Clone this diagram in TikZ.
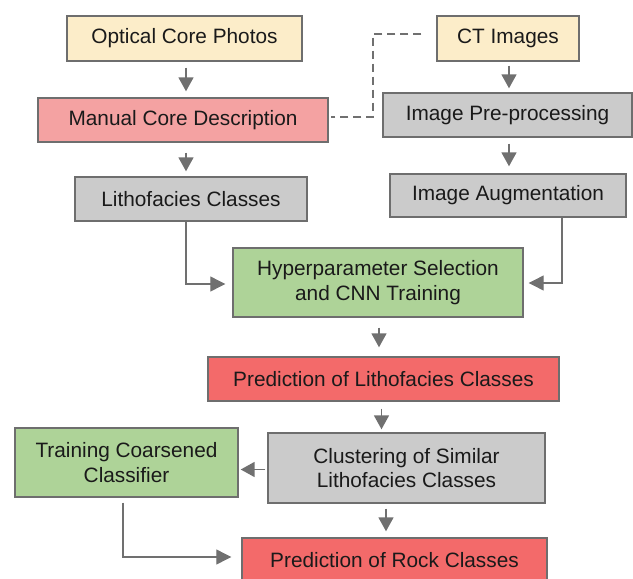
\documentclass[tikz,border=0pt]{standalone}
\usepackage{fontspec}
\setmainfont{Liberation Sans}
\usetikzlibrary{arrows.meta,calc}
\definecolor{cyellow}{HTML}{FCEDC9}
\definecolor{cpink}{HTML}{F4A2A2}
\definecolor{cgray}{HTML}{CBCBCB}
\definecolor{cgreen}{HTML}{AED398}
\definecolor{cred}{HTML}{F36A6A}
\definecolor{cborder}{HTML}{6E6E6E}
\definecolor{carrow}{HTML}{707070}
\definecolor{ctext}{HTML}{1A1A1A}
\tikzset{
  box/.style={draw=cborder, line width=1.4pt, rectangle, inner sep=0pt,
    align=center, text=ctext, font=\fontsize{20.8}{24.5}\selectfont},
  yel/.style={box, fill=cyellow},
  pnk/.style={box, fill=cpink},
  gry/.style={box, fill=cgray},
  grn/.style={box, fill=cgreen},
  rdd/.style={box, fill=cred},
  arr/.style={draw=carrow, line width=1.7pt, -{Triangle[length=14pt,width=15pt]}},
  elbow/.style={draw=carrow, line width=1.2pt, -{Triangle[length=15pt,width=15pt]}},
  dashconn/.style={draw=carrow, line width=1.8pt, dash pattern=on 8pt off 5pt},
}
\begin{document}
\begin{tikzpicture}[x=1pt,y=-1pt]
\useasboundingbox (0,0) rectangle (633,579);
\node[yel, minimum width=235pt, minimum height=45pt] (opt) at (184.5,38.5) {Optical Core Photos};
\node[yel, minimum width=142pt, minimum height=45pt] (ct) at (508,38.5) {CT Images};
\node[pnk, minimum width=290pt, minimum height=44pt] (man) at (183,120) {Manual Core Description};
\node[gry, minimum width=249pt, minimum height=44pt] (pre) at (507.5,115) {Image Pre-processing};
\node[gry, minimum width=232pt, minimum height=44pt] (lit) at (191,199) {Lithofacies Classes};
\node[gry, minimum width=236pt, minimum height=43pt] (aug) at (508,195.5) {Image Augmentation};
\node[grn, minimum width=290pt, minimum height=69pt] (hyp) at (378,282.5) {Hyperparameter Selection\\and CNN Training};
\node[rdd, minimum width=351pt, minimum height=44pt] (pl) at (383.5,379) {Prediction of Lithofacies Classes};
\node[gry, minimum width=277pt, minimum height=70pt] (clu) at (406.5,468) {Clustering of Similar\\Lithofacies Classes};
\node[grn, minimum width=223pt, minimum height=69pt] (trn) at (126.5,462.5) {Training Coarsened\\Classifier};
\node[rdd, minimum width=305pt, minimum height=44pt] (rock) at (394.5,560) {Prediction of Rock Classes};

\draw[arr, shorten <=6pt, shorten >=6pt] ([xshift=1.5pt]opt.south) -- ([xshift=1.5pt]opt.south |- man.north);
\draw[arr, shorten <=10pt, shorten >=5pt] ([xshift=3pt]man.south) -- ([xshift=3pt]man.south |- lit.north);
\draw[arr, shorten <=4pt, shorten >=4pt] ([xshift=1pt]ct.south) -- ([xshift=1pt]ct.south |- pre.north);
\draw[arr, shorten <=6pt, shorten >=7pt] ([xshift=1.5pt]pre.south) -- ([xshift=1.5pt]pre.south |- aug.north);
\draw[arr, shorten <=10pt, shorten >=9pt] ([xshift=1pt]hyp.south) -- ([xshift=1pt]hyp.south |- pl.north);
\draw[arr, shorten <=7pt, shorten >=3pt] ([xshift=-2pt]pl.south) -- ([xshift=-2pt]pl.south |- clu.north);
\draw[arr, shorten <=5pt, shorten >=6pt] ([xshift=-20.5pt]clu.south) -- ([xshift=-20.5pt]clu.south |- rock.north);
\draw[arr, shorten <=2pt, shorten >=2pt] ([yshift=-1.5pt]clu.west) -- ([yshift=-1.5pt]clu.west -| trn.east);

\draw[elbow, shorten >=7pt] ([xshift=-5pt]lit.south) |- ([yshift=-1.5pt]hyp.west);
\draw[elbow, shorten >=5pt] ([xshift=54pt]aug.south) |- ([yshift=-0.5pt]hyp.east);
\draw[elbow, shorten <=5pt, shorten >=10pt] ([xshift=-3.5pt]trn.south) |- ([yshift=3pt]rock.west);

\draw[dashconn] ([xshift=-15pt,yshift=4.5pt]ct.west) -| (373,117) -- ([xshift=2pt,yshift=3pt]man.east);
\end{tikzpicture}
\end{document}
